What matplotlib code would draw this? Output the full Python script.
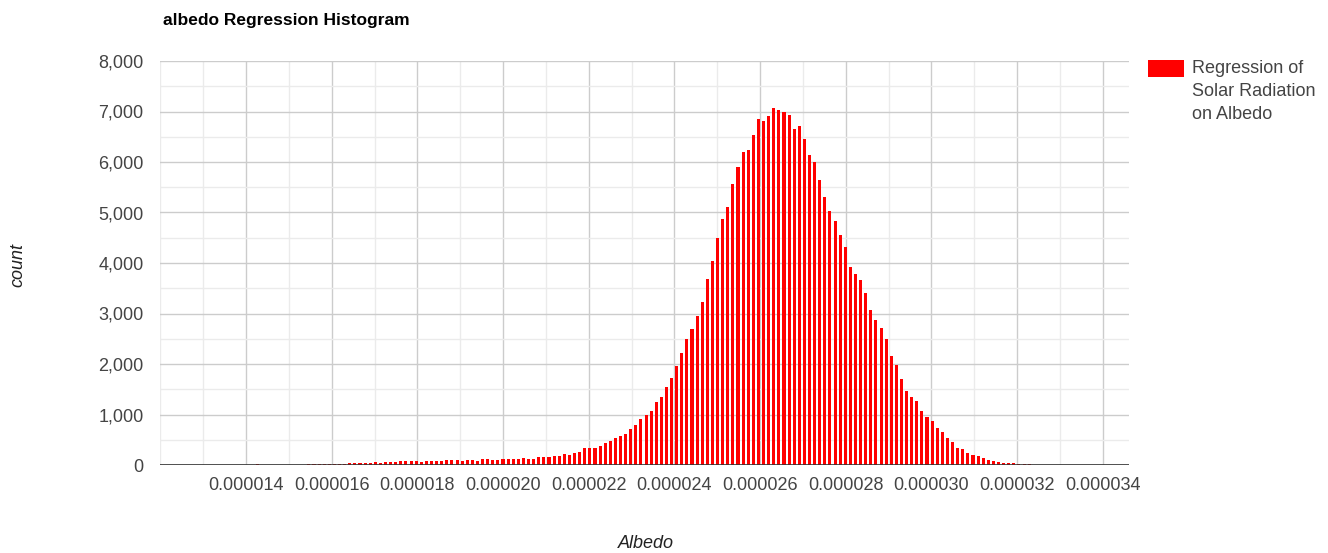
#!/usr/bin/env python3
import numpy as np
import matplotlib
matplotlib.use('Agg')
import matplotlib.pyplot as plt
from matplotlib.patches import Rectangle
from matplotlib.ticker import FuncFormatter, MultipleLocator

plt.rcParams['font.family'] = ['Liberation Sans', 'DejaVu Sans']

# bucket layout (albedo regression coefficient)
bucket_start = 1.29647e-5   # center of first bucket
bucket_width = 1.1924e-7

# counts per bucket, left to right
left_tail = [1, 1, 0, 1, 1, 1, 1, 1, 2, 1, 2, 12, 2, 3, 3, 5, 4, 6, 6, 8,
             9, 10, 15, 22, 22, 22, 22, 28, 28, 36, 42, 36, 44, 46, 50, 33,
             65, 52, 52, 70, 88, 70, 86, 65, 76, 78, 78]
rising = [80, 90, 90, 90, 74, 90, 90, 74, 110, 110, 90, 90, 125, 110, 125,
          125, 145, 125, 110, 165, 165, 165, 185, 185, 218, 198, 238, 251,
          330, 330, 330, 383, 436, 475, 528, 568, 614, 706, 792, 904, 990,
          1063, 1241, 1353, 1544, 1729, 1960, 2218, 2488]
peak = [2687, 2957, 3221, 3690, 4046, 4495, 4871, 5102, 5558, 5901, 6198,
        6238, 6528, 6851, 6812, 6904, 7063, 7030, 6996, 6937, 6653, 6706,
        6455, 6132, 6006, 5644, 5307, 5036, 4838, 4549, 4317, 3921]
falling = [3776, 3657, 3400, 3075, 2877, 2713, 2501, 2158, 1980, 1709, 1458,
           1353, 1264, 1066, 956, 868, 727, 653, 528, 455, 330, 317, 241,
           198, 185, 145, 99, 79, 66, 46, 40, 40]
right_tail = [15, 12, 10, 8, 4, 6, 2, 2, 1, 1, 1, 1, 0, 1]

counts = left_tail + rising + peak + falling + right_tail

x_ticks = [0.000014, 0.000016, 0.000018, 0.000020, 0.000022, 0.000024,
           0.000026, 0.000028, 0.000030, 0.000032, 0.000034]

W, H = 1328, 553


def main():
    fig = plt.figure(figsize=(W / 100, H / 100), dpi=100)
    left, right, top, bottom = 160.3, 1128.5, 61, 465
    ax = fig.add_axes([left / W, 1 - bottom / H, (right - left) / W, (bottom - top) / H])

    centers = bucket_start + bucket_width * np.arange(len(counts))
    ax.bar(centers, counts, width=bucket_width * 0.6, color='#ff0000', linewidth=0, zorder=3)

    ax.set_xlim(1.2e-5, 3.46e-5)
    ax.set_ylim(0, 8000)

    ax.yaxis.set_major_locator(MultipleLocator(1000))
    ax.yaxis.set_minor_locator(MultipleLocator(500))
    ax.set_xticks(x_ticks)
    ax.xaxis.set_minor_locator(MultipleLocator(1e-6))
    ax.yaxis.set_major_formatter(FuncFormatter(lambda v, p: '{:,.0f}'.format(v)))
    ax.xaxis.set_major_formatter(FuncFormatter(lambda v, p: '{:.6f}'.format(v)))

    ax.grid(which='major', color='#cccccc', linewidth=1, zorder=0)
    ax.grid(which='minor', color='#ebebeb', linewidth=1, zorder=0)
    ax.set_axisbelow(True)
    for s in ax.spines.values():
        s.set_visible(False)
    ax.axhline(0, color='#333333', linewidth=1.2, zorder=4)

    ax.tick_params(which='both', length=0)
    ax.tick_params(axis='x', labelsize=13, colors='#444444', pad=9)
    ax.tick_params(axis='y', labelsize=13, colors='#444444', pad=12)

    fig.text(163 / W, 1 - 20 / H, 'albedo Regression Histogram', fontsize=12.5,
             fontweight='bold', color='#000000', ha='left', va='center')
    fig.text(646 / W, 1 - 543 / H, 'Albedo', fontsize=13, fontstyle='italic',
             color='#222222', ha='center', va='center')
    fig.text(18 / W, 1 - 265 / H, 'count', fontsize=13, fontstyle='italic',
             color='#222222', ha='center', va='center', rotation=90)

    # legend
    fig.add_artist(Rectangle((1148 / W, 1 - 77 / H), 36 / W, 17 / H,
                             transform=fig.transFigure, color='#ff0000', linewidth=0))
    fig.text(1192 / W, 1 - 60 / H, 'Regression of\nSolar Radiation\non Albedo',
             fontsize=13, color='#444444', ha='left', va='top', linespacing=1.48)

    fig.savefig('out.png', dpi=100)


if __name__ == '__main__':
    main()
